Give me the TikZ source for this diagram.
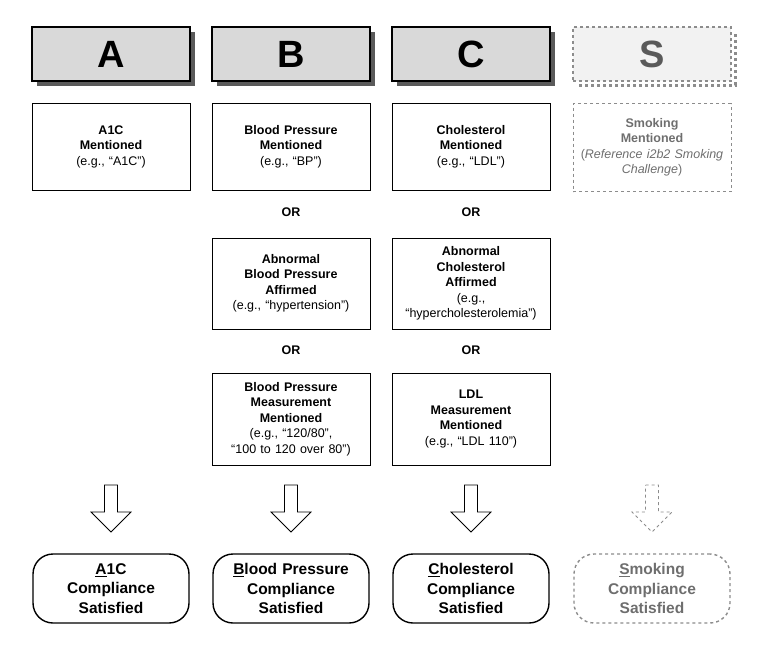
\documentclass[tikz,border=0pt]{standalone}
\usepackage{fontspec}
\setmainfont{Liberation Sans}
\usetikzlibrary{calc}
\definecolor{hdrfill}{HTML}{D9D9D9}
\definecolor{sfill}{HTML}{F2F2F2}
\definecolor{sgray}{HTML}{8C8C8C}
\definecolor{stext}{HTML}{6E6E6E}
\definecolor{shad}{HTML}{5A5A5A}
\begin{document}
\begin{tikzpicture}[x=1pt,y=-1pt,
  hdr/.style={draw=black, line width=1.6pt, fill=hdrfill, minimum width=158pt, minimum height=54pt,
    font=\fontsize{38}{40}\selectfont\bfseries, inner sep=0pt},
  shdr/.style={draw=sgray, dashed, line width=1.6pt, fill=sfill, text=shad, minimum width=158pt, minimum height=54pt,
    font=\fontsize{38}{40}\selectfont\bfseries, inner sep=0pt},
  crit/.style={draw=black, line width=0.6pt, minimum width=158pt, text width=154pt, align=center, inner sep=0pt,
    font=\fontsize{12.5}{15.5}\selectfont},
  scrit/.style={crit, draw=sgray, dashed, text=stext},
  ortxt/.style={font=\fontsize{12.5}{14}\selectfont\bfseries},
  res/.style={draw=black, line width=1.4pt, rounded corners=20pt, minimum width=156pt, minimum height=69pt,
    text width=150pt, align=center, inner sep=0pt, font=\fontsize{15.5}{19.5}\selectfont\bfseries},
  sres/.style={res, draw=sgray, dashed, text=stext},
  blk/.style={draw=black, line width=0.8pt, fill=white},
  sblk/.style={draw=sgray, dashed, line width=0.8pt, fill=white}
]
\useasboundingbox (0,0) rectangle (759,657);

% header shadows
\foreach \cx in {111,291,471}{
  \fill[shad] (\cx-79+5,27+5) rectangle (\cx+79+5,81+5);
}
\draw[sgray, dashed, line width=3pt] (573+6,85) -- (732+3,85) -- (732+3,32);
% headers
\node[hdr]  (hA) at (111,54) {A};
\node[hdr]  (hB) at (291,54) {B};
\node[hdr]  (hC) at (471,54) {C};
\node[shdr] (hS) at (652,54) {S};

% row 1
\node[crit, minimum height=87pt] (a1) at (111,146.5) {\textbf{A1C}\\\textbf{Mentioned}\\(e.g., “A1C”)};
\node[crit, minimum height=87pt] (b1) at (291,146.5) {\textbf{Blood Pressure}\\\textbf{Mentioned}\\(e.g., “BP”)};
\node[crit, minimum height=87pt] (c1) at (471,146.5) {\textbf{Cholesterol}\\\textbf{Mentioned}\\(e.g., “LDL”)};
\node[scrit, minimum height=88pt] (s1) at (652,147.5) {\textbf{Smoking}\\\textbf{Mentioned}\\(\textit{Reference i2b2 Smoking}\\\textit{Challenge})};

\node[ortxt] (orb1) at (291,212) {OR};
\node[ortxt] (orc1) at (471,212) {OR};

% row 2
\node[crit, minimum height=91pt] (b2) at (291,283.5) {\textbf{Abnormal}\\\textbf{Blood Pressure}\\\textbf{Affirmed}\\(e.g., “hypertension”)};
\node[crit, minimum height=91pt] (c2) at (471,283.5) {\textbf{Abnormal}\\\textbf{Cholesterol}\\\textbf{Affirmed}\\(e.g.,\\“hypercholesterolemia”)};

\node[ortxt] (orb2) at (291,350) {OR};
\node[ortxt] (orc2) at (471,350) {OR};

% row 3
\node[crit, minimum height=92pt] (b3) at (291,419) {\textbf{Blood Pressure}\\\textbf{Measurement}\\\textbf{Mentioned}\\(e.g., “120/80”,\\“100 to 120 over 80”)};
\node[crit, minimum height=92pt] (c3) at (471,419) {\textbf{LDL}\\\textbf{Measurement}\\\textbf{Mentioned}\\(e.g., “LDL 110”)};

% results
\node[res]  (rA) at (111,588.5) {\underline{A}1C\\Compliance\\Satisfied};
\node[res]  (rB) at (291,588.5) {\underline{B}lood Pressure\\Compliance\\Satisfied};
\node[res]  (rC) at (471,588.5) {\underline{C}holesterol\\Compliance\\Satisfied};
\node[sres] (rS) at (652,588.5) {\underline{S}moking\\Compliance\\Satisfied};

% block arrows
\foreach \cx/\st in {111/blk,291/blk,471/blk,652/sblk}{
  \draw[\st] (\cx-6.5,485) -- (\cx+6.5,485) -- (\cx+6.5,512) -- (\cx+20,512) -- (\cx,532)
     -- (\cx-20,512) -- (\cx-6.5,512) -- cycle;
}
\end{tikzpicture}
\end{document}
